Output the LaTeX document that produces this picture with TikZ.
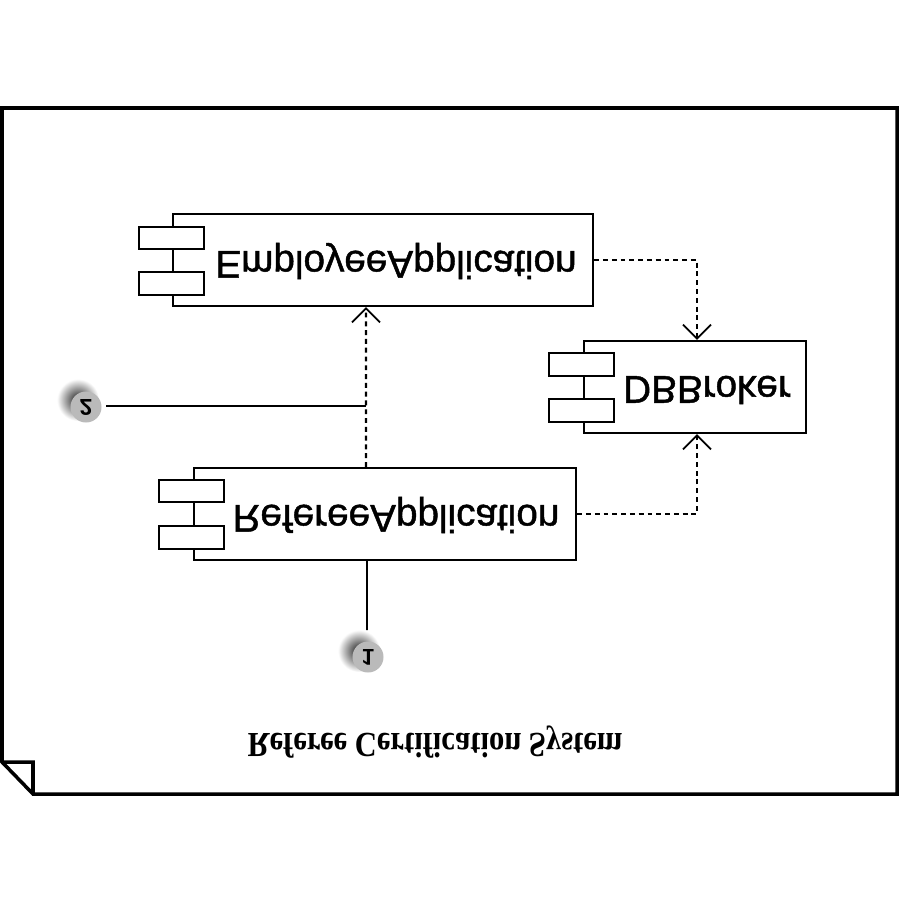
\documentclass[tikz,border=0pt]{standalone}
\usepackage{fontspec}
\setmainfont{Liberation Sans}
\newfontfamily\labelfont{Liberation Sans}[RawFeature={embolden=1.2}]
\newfontfamily\captionfont{Liberation Serif}
\usepackage{tikz}
\usetikzlibrary{arrows.meta}
\newcommand{\flipv}[2][-1]{\scalebox{1}[#1]{#2}}
\begin{document}
\begin{tikzpicture}[x=0.01cm,y=-0.01cm]
\tikzstyle{every node}=[inner sep=0pt]
\tikzstyle{component}=[draw,line width=0.6pt,fill=white,minimum height=0.92cm]
\tikzstyle{port}=[draw,line width=0.6pt,fill=white,minimum width=0.65cm,minimum height=0.225cm]
\tikzstyle{label}=[font=\labelfont\fontsize{11}{13}\selectfont]
\tikzstyle{dep}=[line width=0.7pt,dash pattern=on 1.4pt off 1.1pt,arrows={-Straight Barb[length=4pt,width=8pt,line width=0.5pt]}]
\tikzstyle{link}=[line width=0.55pt]
\tikzstyle{callout}=[circle,fill=black!27,minimum size=0.31cm,font=\bfseries\fontsize{6.5}{7}\selectfont]
\useasboundingbox (0,0) rectangle (900,900);
% frame
\draw[line width=1pt,line join=miter] (2,762) -- (2,108) -- (897,108) -- (897,794) -- (33,794) -- (2,762) -- (33,762) -- (33,794);
% components
\node[component,minimum width=4.2cm] (a) at (383,260) {};
\node[port] (ap) at (171.5,238) {};
\node[port] (aq) at (171.5,283.5) {};
\node[label] (at) at (396,261) {\flipv{EmployeeApplication}};
\node[component,minimum width=2.22cm] (c) at (695,387) {};
\node[port] (cp) at (581.5,364.5) {};
\node[port] (cq) at (581.5,410.5) {};
\node[label] (ct) at (707,390) {\flipv{DBBroker}};
\node[component,minimum width=3.82cm] (b) at (385,514) {};
\node[port] (bp) at (191.5,491) {};
\node[port] (bq) at (191.5,537.5) {};
\node[label] (bt) at (396,515) {\flipv{RefereeApplication}};
% dependencies
\draw[dep] (a.east) -| ([xshift=0.02cm]c.north);
\draw[dep] (b.east) -| ([xshift=0.02cm]c.south);
\draw[dep] ([xshift=-0.19cm]b.north) -- ([xshift=-0.17cm]a.south);
% callouts
\shade[inner color=black!90,outer color=white] (78,400) circle (21);
\shade[inner color=black!90,outer color=white] (359,651) circle (21);
\node[callout] (n2) at (86,407) {\flipv{2}};
\node[callout] (n1) at (368,657) {\flipv{1}};
\coordinate (m2) at (366,406);
\coordinate (m1) at (367,630);
\draw[link] ([xshift=0.04cm]n2.east |- m2) -- (m2);
\draw[link] ([xshift=-0.18cm]b.south) -- (m1);
% caption
\node[font=\captionfont\bfseries\fontsize{8.7}{11}\selectfont] (title) at (435,742) {\flipv[-1.15]{Referee Certification System}};
\end{tikzpicture}
\end{document}
